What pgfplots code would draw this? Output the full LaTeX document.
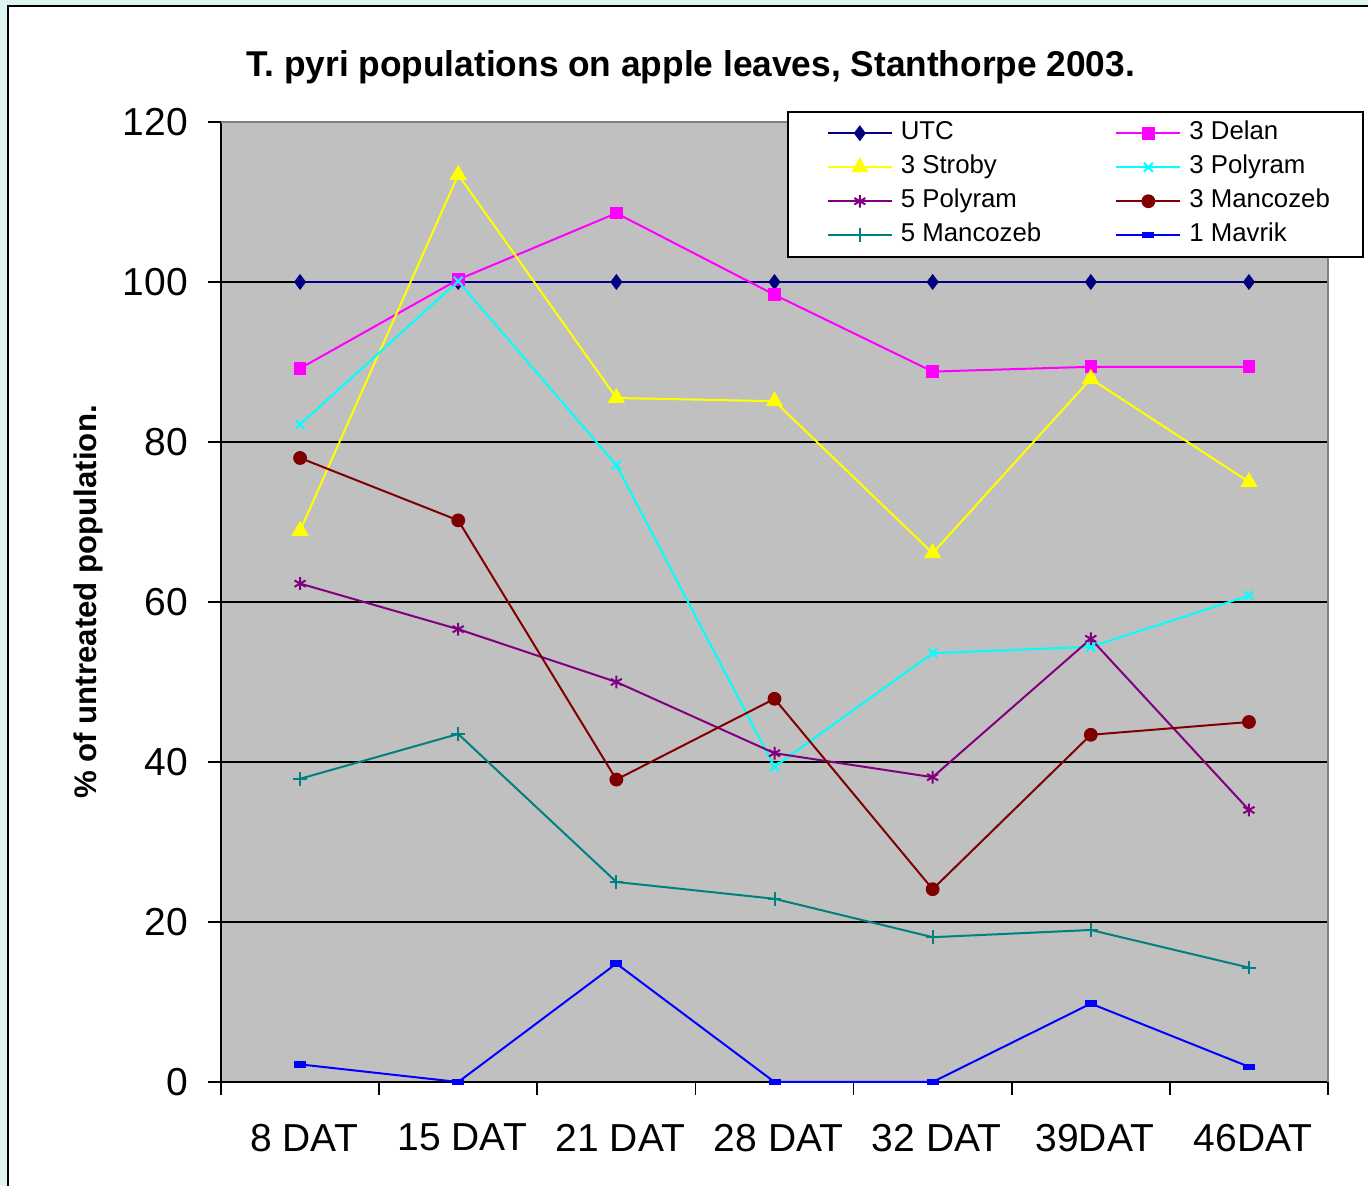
\documentclass[border=0pt]{standalone}
\usepackage{pgfplots}
\pgfplotsset{compat=1.18}
\usepackage{fontspec}
\setmainfont{Liberation Sans}
\definecolor{mint}{HTML}{DDF5F0}
\definecolor{plotgray}{HTML}{C0C0C0}
\definecolor{cUTC}{HTML}{000080}
\definecolor{cDelan}{HTML}{FF00FF}
\definecolor{cStroby}{HTML}{FFFF00}
\definecolor{cPolyA}{HTML}{00FFFF}
\definecolor{cPolyB}{HTML}{800080}
\definecolor{cMancA}{HTML}{800000}
\definecolor{cMancB}{HTML}{008080}
\definecolor{cMav}{HTML}{0000FF}
\begin{document}
\begin{tikzpicture}[x=1pt,y=1pt]
\useasboundingbox (0,0) rectangle (684,593);
\fill[mint] (0,0) rectangle (684,593);
\draw[line width=1.3pt, fill=white] (4,-20) rectangle (720,590);
\node[anchor=base] at (345.5,554.5) {\resizebox{444pt}{13pt}{\bfseries T. pyri populations on apple leaves, Stanthorpe 2003.}};
\begin{axis}[
  at={(110.5pt,52pt)}, anchor=south west,
  scale only axis, width=553.5pt, height=480pt,
  xmin=0.5, xmax=7.5, ymin=0, ymax=120,
  clip=false,
  axis lines=left, axis line style={-, line width=1pt, black},
  axis background/.style={fill=plotgray},
  xtick={1,...,7},
  xticklabels={8 DAT,15 DAT,21 DAT,28 DAT,32 DAT,39DAT,46DAT},
  minor xtick={0.5,1.5,...,7.5},
  ytick={0,20,...,120},
  tick align=outside,
  xtick pos=bottom, ytick pos=left,
  major x tick style={draw=none},
  minor tick length=6.5pt, major tick length=6.5pt,
  every tick/.style={black, line width=0.8pt},
  ymajorgrids, grid style={black, line width=1pt},
  /pgf/number format/assume math mode=true,
  ticklabel style={font=\fontsize{19.5}{23}\selectfont},
  xticklabel style={anchor=north, yshift=-11pt, xshift=2pt},
  yticklabel style={anchor=east, xshift=-6.5pt},
  ylabel={\bfseries \% of untreated population.},
  ylabel style={font=\fontsize{15.6}{18}\selectfont, at={(axis description cs:-0.120,0.5)}, anchor=center, rotate=0},
  legend columns=2,
  legend style={at={(axis description cs:0.5113,1.0115)}, anchor=north west,
    draw=black, line width=0.8pt, fill=white,
    font=\fontsize{12.9}{14}\selectfont,
    inner xsep=16.5pt, inner ysep=5pt,
    row sep=5.5pt,
    nodes={inner sep=0pt, text height=9pt, text depth=2.5pt},
    /tikz/every odd column/.append style={column sep=4pt},
    /tikz/every even column/.append style={column sep=34pt}},
  legend cell align=left,
  legend image code/.code={\path (0pt,0pt); \draw[mark repeat=2,mark phase=2] plot coordinates {(3pt,0pt) (19pt,0pt) (35pt,0pt)};},
  every axis plot/.append style={line width=1pt},
]
\addplot[color=cUTC, mark=diamond*, mark size=3.6pt, mark options={solid, line width=0.5pt}] coordinates {(1,100) (2,100) (3,100) (4,100) (5,100) (6,100) (7,100)};
\addlegendentry{UTC}
\addplot[color=cDelan, mark=square*, mark size=2.9pt, mark options={solid, line width=0.5pt}] coordinates {(1,89.2) (2,100.3) (3,108.6) (4,98.4) (5,88.8) (6,89.4) (7,89.4)};
\addlegendentry{3 Delan}
\addplot[color=cStroby, mark=triangle*, mark size=4.5pt, mark options={solid, line width=0.5pt}] coordinates {(1,68.9) (2,113.4) (3,85.5) (4,85.1) (5,66.1) (6,87.9) (7,75.0)};
\addlegendentry{3 Stroby}
\addplot[color=cPolyA, mark=x, mark size=3.2pt, mark options={solid, line width=1pt}] coordinates {(1,82.2) (2,100.1) (3,77.1) (4,39.4) (5,53.6) (6,54.4) (7,60.8)};
\addlegendentry{3 Polyram}
\addplot[color=cPolyB, mark=asterisk, mark size=3.2pt, mark options={solid, line width=1pt}] coordinates {(1,62.3) (2,56.6) (3,50.0) (4,41.1) (5,38.1) (6,55.4) (7,34.0)};
\addlegendentry{5 Polyram}
\addplot[color=cMancA, mark=*, mark size=3.2pt, mark options={solid, line width=0.5pt}] coordinates {(1,78.0) (2,70.2) (3,37.8) (4,47.9) (5,24.1) (6,43.4) (7,45.0)};
\addlegendentry{3 Mancozeb}
\addplot[color=cMancB, mark=+, mark size=3.4pt, mark options={solid, line width=1pt}] coordinates {(1,37.9) (2,43.5) (3,25.0) (4,22.9) (5,18.1) (6,19.0) (7,14.3)};
\addlegendentry{5 Mancozeb}
\addplot[color=cMav, mark=-, mark size=3pt, mark options={solid, line width=3.2pt}] coordinates {(1,2.2) (2,0) (3,14.8) (4,0) (5,0) (6,9.8) (7,1.9)};
\addlegendentry{1 Mavrik}
\draw[color=gray, line width=1pt] (rel axis cs:0,1) -- (rel axis cs:1,1) -- (rel axis cs:1,0);
\end{axis}
\end{tikzpicture}
\end{document}
